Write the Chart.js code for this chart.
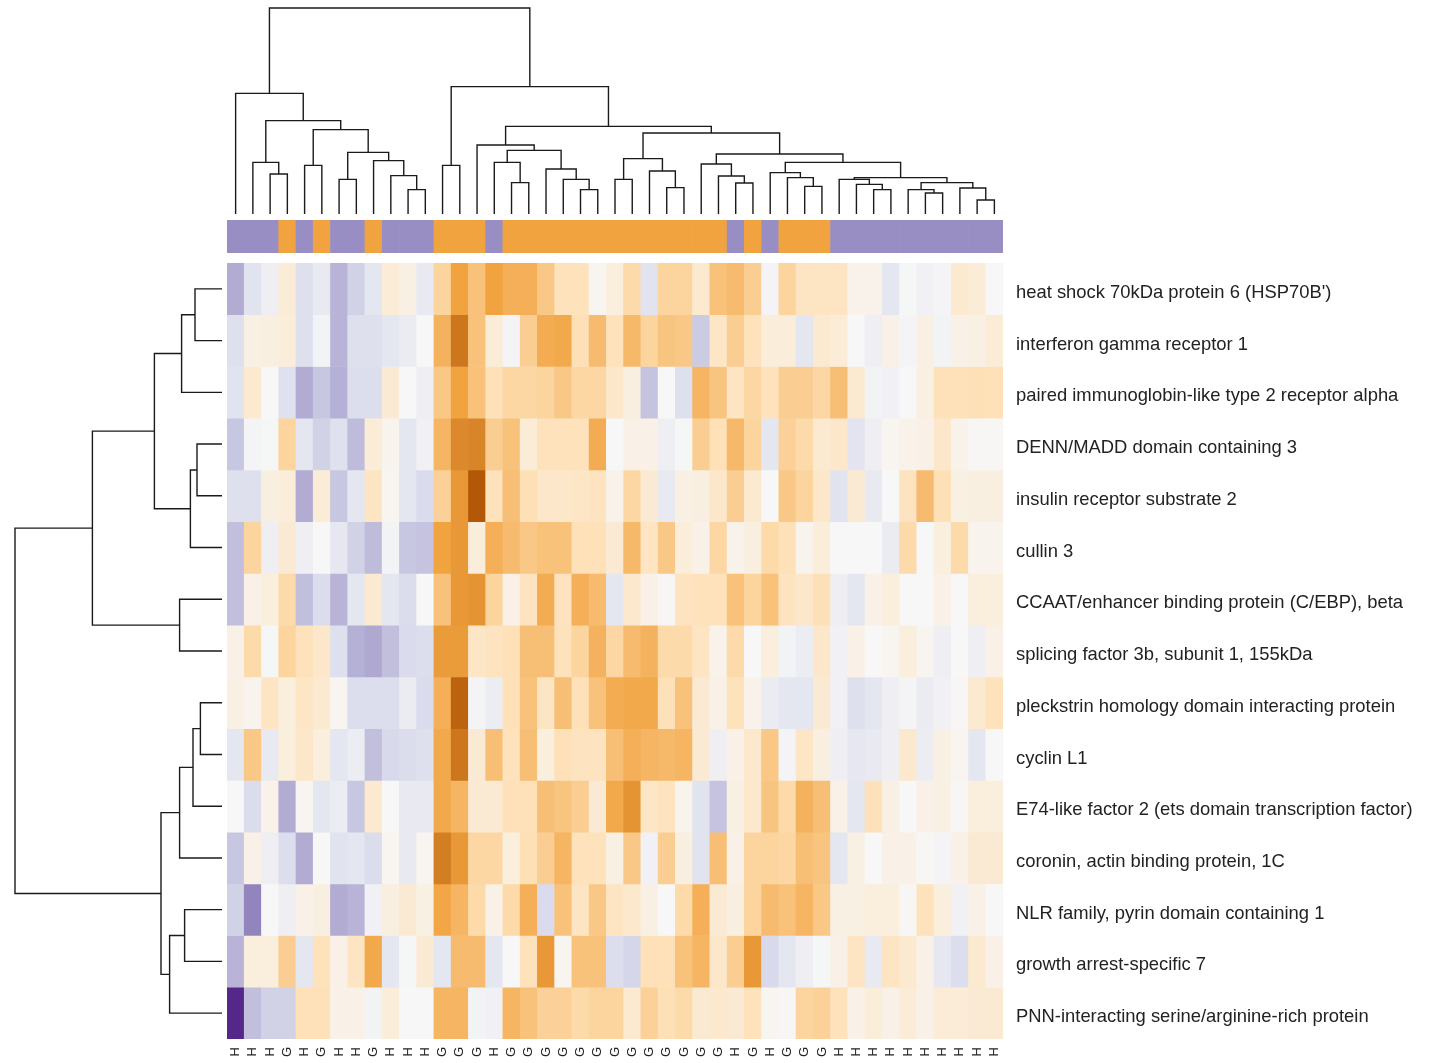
<!DOCTYPE html>
<html>
<head>
<meta charset="utf-8">
<title>Gene expression heatmap</title>
<script src="https://cdn.jsdelivr.net/npm/chart.js@4.4.1/dist/chart.umd.min.js"></script>
<style>
    body { margin: 0; background: #fff; }
    #wrap { position: relative; width: 1435px; height: 1063px; overflow: hidden; }
    canvas { position: absolute; }
    #colTree  { left: 227px; top: 0; }
    #groupBar { left: 227px; top: 220px; }
    #heat     { left: 227px; top: 263px; }
    #rowTree  { left: 0; top: 263px; }
</style>
</head>
<body>
<div id="wrap">
    <canvas id="colTree" width="776" height="214"></canvas>
    <canvas id="groupBar" width="776" height="33"></canvas>
    <canvas id="heat" width="1208" height="800"></canvas>
    <canvas id="rowTree" width="222" height="776"></canvas>
</div>
<script>
var geneLabels = [
    "heat shock 70kDa protein 6 (HSP70B')",
    'interferon gamma receptor 1',
    'paired immunoglobin-like type 2 receptor alpha',
    'DENN/MADD domain containing 3',
    'insulin receptor substrate 2',
    'cullin 3',
    'CCAAT/enhancer binding protein (C/EBP), beta',
    'splicing factor 3b, subunit 1, 155kDa',
    'pleckstrin homology domain interacting protein',
    'cyclin L1',
    'E74-like factor 2 (ets domain transcription factor)',
    'coronin, actin binding protein, 1C',
    'NLR family, pyrin domain containing 1',
    'growth arrest-specific 7',
    'PNN-interacting serine/arginine-rich protein'
];

// sample groups, in dendrogram order
var sampleGroups = ['H','H','H','G','H','G','H','H','G','H','H','H','G','G','G','H',
    'G','G','G','G','G','G','G','G','G','G','G','G','G','H','G','H','G','G','G',
    'H','H','H','H','H','H','H','H','H','H'];

var groupColours = { H: '#998ec3', G: '#f1a340' };

// scaled expression, one row per gene
var heatValues = [
    [-1.6,-0.7,-0.3,0.5,-0.8,-0.5,-1.5,-1.1,-0.6,0.5,0.3,-0.5,1.2,2.0,1.5,2.0,1.8,1.8,1.4,0.9,0.9,0.1,0.4,1.1,-0.7,1.2,1.2,0.6,1.5,1.6,1.3,-0.1,1.2,0.8,0.8,0.8,0.2,0.2,-0.6,-0.05,-0.2,-0.1,0.6,0.5,0.0],
    [-0.8,0.3,0.35,0.45,-0.8,-0.15,-1.5,-0.8,-0.8,-0.6,-0.4,0.0,1.75,2.6,1.5,0.5,-0.1,1.3,1.85,1.9,1.0,1.6,0.9,1.65,1.2,1.45,1.4,-1.2,0.75,1.3,0.9,0.45,0.45,-0.6,0.6,0.5,0.0,-0.3,0.25,-0.1,0.3,-0.15,0.25,0.3,0.5],
    [-0.7,0.6,0.0,-0.75,-1.6,-1.25,-1.55,-0.85,-0.85,0.55,0.0,-0.3,1.4,2.0,1.5,0.95,1.15,1.15,1.2,1.4,1.15,1.15,0.7,0.35,-1.3,0.0,-0.8,1.7,1.45,0.8,1.15,0.9,1.3,1.3,1.15,1.55,0.6,-0.15,-0.2,0.0,0.3,0.95,0.95,1.0,0.95],
    [-1.25,-0.1,-0.05,1.2,-0.6,-1.1,-0.75,-1.4,0.5,0.15,-0.6,-0.2,1.7,2.35,2.4,1.3,1.5,0.5,0.9,0.9,0.9,1.85,0.0,0.25,0.25,-0.3,-0.05,1.3,0.95,1.65,1.2,-0.6,1.25,1.1,0.6,0.7,-0.65,-0.3,0.1,0.2,0.25,0.7,0.2,0.05,0.05],
    [-0.8,-0.8,0.35,0.45,-1.6,0.5,-1.25,-0.6,0.8,0.1,-0.6,-0.95,1.25,2.15,3.0,0.9,1.55,1.0,0.7,0.7,0.75,0.85,0.2,1.15,0.55,-0.5,0.3,0.35,0.7,1.3,0.6,0.0,1.4,1.2,0.7,-0.7,0.55,-0.5,0.0,0.85,1.6,1.0,0.3,0.35,0.35],
    [-1.35,1.2,-0.3,0.55,-0.3,0.0,-0.55,-1.1,-1.4,-0.15,-1.25,-1.3,2.0,2.15,0.45,1.8,1.6,1.4,1.5,1.5,0.95,0.95,0.55,1.65,0.8,1.4,0.45,0.25,1.15,0.2,0.35,1.1,0.95,0.15,0.45,0.0,0.0,0.0,-0.4,1.1,0.0,0.4,1.1,0.15,0.15],
    [-1.35,0.25,0.4,1.1,-1.35,-0.9,-1.5,-0.6,0.6,-0.6,-0.9,0.0,1.5,2.15,2.2,1.2,0.25,0.85,1.85,0.85,1.8,1.6,-0.6,0.65,0.25,0.05,0.85,0.9,0.9,1.5,1.2,1.5,0.85,0.7,1.0,-0.3,-0.6,0.25,0.4,0.0,0.0,0.25,0.0,0.4,0.4],
    [0.25,1.1,-0.05,1.2,0.9,0.7,-0.8,-1.55,-1.65,-1.35,-0.95,-0.85,2.1,2.1,0.75,0.85,0.95,1.55,1.55,0.9,1.2,1.75,1.15,1.6,1.75,1.1,1.1,0.8,0.2,1.1,0.0,0.4,-0.15,-0.35,0.7,-0.2,0.25,0.0,0.1,0.4,0.1,-0.3,0.0,-0.3,0.25],
    [0.3,0.15,0.8,0.4,0.75,0.6,0.1,-0.85,-0.85,-0.85,-0.4,-0.95,1.8,2.85,-0.1,-0.35,0.95,1.5,0.8,1.55,0.95,1.5,1.85,1.9,1.9,0.95,1.5,0.55,0.25,0.9,0.2,-0.4,-0.6,-0.6,0.55,-0.2,-0.8,-0.6,-0.3,-0.1,-0.4,-0.2,0.05,0.6,0.9],
    [-0.6,1.4,-0.5,0.4,0.7,0.4,-0.6,-0.35,-1.35,-1.0,-0.9,-0.8,1.9,2.6,0.55,1.55,0.9,1.55,0.4,0.95,0.85,0.85,1.55,1.8,1.7,1.65,1.7,0.55,-0.3,0.25,0.65,1.4,-0.1,0.75,0.35,-0.3,-0.55,-0.5,-0.3,0.65,-0.35,0.3,0.1,-0.6,0.0],
    [0.0,-0.9,0.2,-1.6,0.1,-0.6,-0.35,-1.25,0.6,0.0,-0.5,-0.5,1.9,1.7,0.55,0.55,0.95,0.95,1.55,1.45,1.3,0.55,1.9,2.2,0.75,0.85,0.15,-0.7,-1.3,0.3,0.65,1.45,1.1,1.75,1.55,0.25,-0.6,0.95,0.3,0.0,0.25,0.3,0.05,0.4,0.4],
    [-1.25,0.25,-0.3,-0.85,-1.6,0.0,-0.7,-0.6,-0.9,0.1,-0.5,0.1,2.5,2.15,1.15,1.15,0.4,1.0,1.3,1.7,0.9,0.9,0.3,1.4,-0.2,1.3,0.35,-0.7,1.55,0.25,1.2,1.2,1.15,1.55,1.45,-0.6,0.3,0.0,0.25,0.25,0.05,-0.1,0.25,0.55,0.55],
    [-1.1,-2.1,0.0,-0.3,0.25,0.35,-1.6,-1.5,-0.2,0.35,0.55,0.3,1.95,1.7,1.1,0.25,1.1,1.8,-0.95,1.5,0.8,1.4,0.8,0.65,0.3,0.0,1.1,1.8,0.55,0.35,1.2,1.6,1.5,1.7,1.4,0.3,0.3,0.4,0.4,0.05,0.9,0.4,-0.2,0.25,0.0],
    [-1.5,0.4,0.4,1.3,-0.6,0.9,0.25,0.8,1.9,-0.6,-0.05,0.55,-0.6,1.6,1.6,-0.6,0.0,0.9,2.15,0.1,1.5,1.5,-0.85,-1.05,0.95,0.95,1.5,1.7,0.7,1.3,2.15,-1.0,-0.6,-0.3,-0.05,0.25,0.8,-0.5,0.8,0.6,0.25,-0.55,-0.85,0.6,0.25],
    [-3.0,-1.35,-1.1,-1.1,0.95,0.95,0.25,0.25,-0.15,0.45,0.0,0.0,1.7,1.7,-0.15,-0.2,1.7,1.5,1.25,1.25,1.1,1.2,1.2,0.6,1.25,1.0,1.1,0.55,0.65,0.55,0.9,0.1,0.05,1.2,1.25,0.9,0.25,0.45,0.25,0.5,0.25,0.5,0.5,0.55,0.55]
];

// merges like hclust: negative = leaf position (1-based), positive = earlier merge
var colMerges = [
    [-3,-4,2.00], [-2,1,2.58], [-5,-6,2.43], [-7,-8,1.73], [-11,-12,1.22],
    [-10,5,1.92], [-9,6,2.67], [4,7,3.08], [3,8,4.22], [2,9,4.67],
    [-1,10,6.03], [-13,-14,2.43], [-17,-18,1.57], [-16,13,2.58], [-21,-22,1.22],
    [-20,15,1.73], [-19,16,2.25], [14,17,3.18], [-15,18,3.45], [-23,-24,1.73],
    [-26,-27,1.32], [-25,21,2.15], [20,22,2.77], [-30,-31,1.55], [-29,24,1.90],
    [-28,25,2.50], [-34,-35,1.38], [-33,27,1.82], [-32,28,2.07], [-38,-39,1.22],
    [-37,30,1.48], [-36,31,1.73], [-41,-42,1.05], [-40,33,1.22], [-44,-45,0.70],
    [-43,35,1.30], [34,36,1.57], [32,37,1.82], [29,38,2.58], [26,39,3.00],
    [23,40,4.05], [19,41,4.38], [12,42,6.37], [11,43,10.30]
];

var rowMerges = [
    [-1,-2,1.35], [1,-3,2.02], [-4,-5,1.25], [3,-6,1.58], [2,4,3.38],
    [-7,-8,2.12], [5,6,6.48], [-9,-10,1.08], [8,-11,1.45], [9,-12,2.12],
    [-13,-14,1.87], [11,-15,2.62], [10,12,3.05], [7,13,10.35]
];

var paletteStops = ['#542788', '#998ec3', '#d8daeb', '#f7f7f7', '#fee0b6', '#f1a340', '#b35806'];
var valueMin = -3;
var valueMax = 3;

function hexRgb(hex) {
    return [1, 3, 5].map(i => parseInt(hex.substr(i, 2), 16));
}

function cellColour(v) {
    var t = (v - valueMin) / (valueMax - valueMin) * (paletteStops.length - 1);
    t = Math.max(0, Math.min(paletteStops.length - 1, t));
    var i = Math.min(Math.floor(t), paletteStops.length - 2);
    var f = t - i;
    var a = hexRgb(paletteStops[i]), b = hexRgb(paletteStops[i + 1]);
    var c = a.map((x, k) => Math.round(x + (b[k] - x) * f));
    return 'rgb(' + c.join(',') + ')';
}

// turn a merge list into line points; gaps (NaN) split the brackets
function treePoints(merges, horizontal) {
    var nodes = [];
    var pts = [];
    function info(id) {
        return id < 0 ? { p: -id - 1, h: 0 } : nodes[id - 1];
    }
    function add(p, h) {
        pts.push(horizontal ? { x: h, y: p } : { x: p, y: h });
    }
    merges.forEach(m => {
        var a = info(m[0]), b = info(m[1]);
        add(a.p, a.h);
        add(a.p, m[2]);
        add(b.p, m[2]);
        add(b.p, b.h);
        pts.push({ x: NaN, y: NaN });
        nodes.push({ p: (a.p + b.p) / 2, h: m[2] });
    });
    return pts;
}

Chart.defaults.font.family = "'Liberation Sans', Arial, sans-serif";
Chart.defaults.animation = false;
Chart.defaults.events = [];
Chart.defaults.plugins.legend.display = false;
Chart.defaults.plugins.tooltip.enabled = false;

function treeChart(id, pts, xScale, yScale) {
    return new Chart(document.getElementById(id), {
        type: 'scatter',
        data: {
            datasets: [{
                data: pts,
                showLine: true,
                spanGaps: false,
                pointRadius: 0,
                borderColor: '#1a1a1a',
                borderWidth: 1.4,
                borderJoinStyle: 'miter',
                clip: false
            }]
        },
        options: {
            responsive: false,
            layout: { padding: 0 },
            scales: { x: xScale, y: yScale }
        }
    });
}

treeChart('colTree', treePoints(colMerges, false),
    { type: 'linear', min: -0.5, max: sampleGroups.length - 0.5, display: false },
    { type: 'linear', min: 0, max: 10.7, display: false });

treeChart('rowTree', treePoints(rowMerges, true),
    { type: 'linear', min: 0, max: 11.1, reverse: true, display: false },
    { type: 'linear', min: -0.5, max: geneLabels.length - 0.5, reverse: true, display: false });

new Chart(document.getElementById('groupBar'), {
    type: 'bar',
    data: {
        labels: sampleGroups,
        datasets: [{
            data: sampleGroups.map(() => 1),
            backgroundColor: sampleGroups.map(g => groupColours[g]),
            barPercentage: 1,
            categoryPercentage: 1
        }]
    },
    options: {
        responsive: false,
        layout: { padding: 0 },
        scales: {
            x: { display: false },
            y: { display: false, min: 0, max: 1 }
        }
    }
});

new Chart(document.getElementById('heat'), {
    type: 'bar',
    data: {
        labels: sampleGroups,
        datasets: heatValues.map((row, r) => ({
            data: row.map(() => [r - 0.5, r + 0.5]),
            backgroundColor: row.map(cellColour),
            barPercentage: 1,
            categoryPercentage: 1,
            grouped: false
        }))
    },
    options: {
        responsive: false,
        layout: { padding: 0 },
        scales: {
            x: {
                grid: { display: false, drawTicks: false },
                border: { display: false },
                ticks: {
                    autoSkip: false,
                    minRotation: 90,
                    maxRotation: 90,
                    padding: 8,
                    color: '#222',
                    font: { size: 13 }
                },
                afterFit: function (scale) {
                    scale.height = 24;
                    scale.paddingLeft = 0;
                    scale.paddingRight = 0;
                }
            },
            y: {
                position: 'right',
                min: -0.5,
                max: geneLabels.length - 0.5,
                reverse: true,
                grid: { display: false, drawTicks: false },
                border: { display: false },
                afterBuildTicks: function (scale) {
                    scale.ticks = geneLabels.map((_, i) => ({ value: i }));
                },
                ticks: {
                    callback: v => geneLabels[v],
                    padding: 13,
                    labelOffset: 4,
                    color: '#222',
                    font: { size: 18.4 }
                },
                afterFit: function (scale) {
                    scale.width = 432;
                    scale.paddingTop = 0;
                    scale.paddingBottom = 0;
                }
            }
        }
    }
});
</script>
</body>
</html>
